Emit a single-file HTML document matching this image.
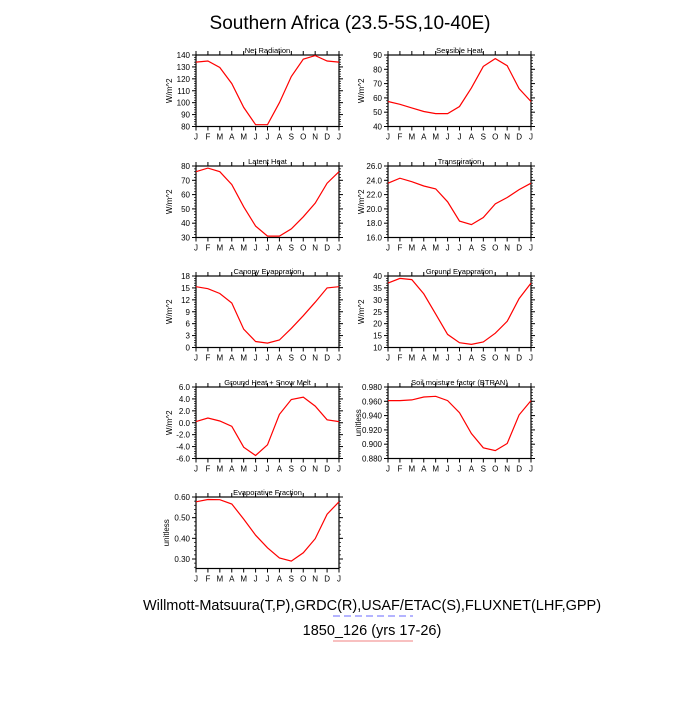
<!DOCTYPE html>
<html><head><meta charset="utf-8"><style>
body{margin:0;background:#fff;}
svg{font-family:"Liberation Sans",sans-serif;}
</style></head><body>
<svg id="c" width="700" height="700" viewBox="0 0 700 700">
<text x="350" y="29" font-size="19" text-anchor="middle">Southern Africa (23.5-5S,10-40E)</text>
<text x="372" y="610" font-size="14.5" text-anchor="middle">Willmott-Matsuura(T,P),GRDC(R),USAF/ETAC(S),FLUXNET(LHF,GPP)</text>
<line x1="333" y1="616" x2="413" y2="616" stroke="#6a6aff" stroke-width="1" stroke-dasharray="7,4"/>
<text x="372" y="635" font-size="14.5" text-anchor="middle">1850_126 (yrs 17-26)</text>
<line x1="333" y1="641" x2="413" y2="641" stroke="#f08080" stroke-width="1"/>
</svg>
<script>
const months=["J","F","M","A","M","J","J","A","S","O","N","D","J"];
const netRad=[134,135,129.5,116,96,81.5,81.5,100,122,136.5,139.5,135,134];
const sensible=[57.5,55.5,53,50.5,49,49,54,67,82,87.5,82.5,66.5,57.5];
const latent=[76,78.5,76,67,51.5,38,31,31,36,44.5,54,68,76];
const transp=[23.6,24.3,23.8,23.2,22.8,21.0,18.3,17.8,18.8,20.7,21.6,22.7,23.6];
const canopy=[15.3,14.8,13.6,11.2,4.6,1.5,1.1,1.9,4.8,8.0,11.4,15.0,15.3];
const groundEvap=[37,39,38.5,32.5,24,15.5,12,11.3,12.3,16,21,30.5,37];
const groundHeat=[0.2,0.8,0.3,-0.6,-4.1,-5.5,-3.7,1.4,3.9,4.3,2.8,0.5,0.2];
const btran=[0.961,0.961,0.962,0.966,0.967,0.961,0.944,0.915,0.895,0.891,0.901,0.941,0.961];
const evapFrac=[0.577,0.588,0.587,0.566,0.493,0.415,0.354,0.305,0.290,0.330,0.398,0.517,0.577];
const netRadTicks=["140","130","120","110","100","90","80"];
const sensTicks=["90","80","70","60","50","40"];
const latTicks=["80","70","60","50","40","30"];
const transpTicks=["26.0","24.0","22.0","20.0","18.0","16.0"];
const canTicks=["18","15","12","9","6","3","0"];
const gevTicks=["40","35","30","25","20","15","10"];
const ghTicks=["6.0","4.0","2.0","0.0","-2.0","-4.0","-6.0"];
const btTicks=["0.980","0.960","0.940","0.920","0.900","0.880"];
const efTicks=["0.60","0.50","0.40","0.30"];

const panels=[
 {id:"net-radiation",title:"Net Radiation",unit:"W/m^2",d:netRad,t:netRadTicks,min:80,max:140,x:196,y:55},
 {id:"sensible-heat",title:"Sensible Heat",unit:"W/m^2",d:sensible,t:sensTicks,min:40,max:90,x:388,y:55},
 {id:"latent-heat",title:"Latent Heat",unit:"W/m^2",d:latent,t:latTicks,min:30,max:80,x:196,y:166},
 {id:"transpiration",title:"Transpiration",unit:"W/m^2",d:transp,t:transpTicks,min:16,max:26,x:388,y:166},
 {id:"canopy-evaporation",title:"Canopy Evaporation",unit:"W/m^2",d:canopy,t:canTicks,min:0,max:18,x:196,y:276},
 {id:"ground-evaporation",title:"Ground Evaporation",unit:"W/m^2",d:groundEvap,t:gevTicks,min:10,max:40,x:388,y:276},
 {id:"ground-heat",title:"Ground Heat + Snow Melt",unit:"W/m^2",d:groundHeat,t:ghTicks,min:-6,max:6,x:196,y:387},
 {id:"btran",title:"Soil moisture factor (BTRAN)",unit:"unitless",d:btran,t:btTicks,min:0.88,max:0.98,x:388,y:387},
 {id:"evaporative-fraction",title:"Evaporative Fraction",unit:"unitless",d:evapFrac,t:efTicks,min:0.254,max:0.60,x:196,y:497}
];
const W=143,H=71.5,NS="http://www.w3.org/2000/svg";
const svg=document.getElementById("c");
function mk(tag,attrs,parent){const e=document.createElementNS(NS,tag);for(const k in attrs)e.setAttribute(k,attrs[k]);parent.appendChild(e);return e;}
panels.forEach(p=>{
 const g=mk("g",{},svg);
 
 
 const xs=i=>p.x+i*W/12;
 const ys=v=>p.y+H-(v-p.min)/(p.max-p.min)*H;
 let path="";
 // ticks
 for(let i=0;i<=12;i++){
  const x=xs(i);
  mk("line",{x1:x,y1:p.y+H,x2:x,y2:p.y+H+4,stroke:"#000","stroke-width":1},g);
  mk("line",{x1:x,y1:p.y,x2:x,y2:p.y-4,stroke:"#000","stroke-width":1},g);
  const tl=mk("text",{x:x,y:p.y+H+13,"font-size":8,"text-anchor":"middle"},g);
  tl.textContent=months[i];
  
  
 }
 const n=p.t.length;
 const tv=p.t.map(Number);
 const step=tv.length>1?tv[0]-tv[1]:1;
 // minor ticks
 for(let v=tv[0];v>=p.min-1e-9;v-=step/5){
  const y=ys(v);
  if(y>p.y+H+0.5)continue;
  mk("line",{x1:p.x,y1:y,x2:p.x-2,y2:y,stroke:"#000","stroke-width":0.7},g);
  mk("line",{x1:p.x+W,y1:y,x2:p.x+W+2,y2:y,stroke:"#000","stroke-width":0.7},g);
 }
 tv.forEach((v,i)=>{
  const y=ys(v);
  mk("line",{x1:p.x,y1:y,x2:p.x-4,y2:y,stroke:"#000","stroke-width":1},g);
  mk("line",{x1:p.x+W,y1:y,x2:p.x+W+4,y2:y,stroke:"#000","stroke-width":1},g);
  const tl=mk("text",{x:p.x-6,y:y+3,"font-size":8,"text-anchor":"end"},g);
  tl.textContent=p.t[i];
  
  
 });
 const fr=mk("rect",{x:p.x,y:p.y,width:W,height:H,fill:"none",stroke:"#000","stroke-width":1.2},g);
 
 
 p.d.forEach((v,i)=>{path+=(i?"L":"M")+xs(i).toFixed(1)+","+ys(v).toFixed(1);});
 const ln=mk("path",{d:path,fill:"none",stroke:"#f00","stroke-width":1.2},g);
 
 
 const tt=mk("text",{x:p.x+W/2,y:p.y-2,"font-size":7.5,"text-anchor":"middle"},g);
 tt.textContent=p.title;
 
 
 const yl=p.unit==="unitless"?p.x-27:p.x-24;
 const ut=mk("text",{x:yl,y:p.y+H/2,"font-size":8,"text-anchor":"middle",transform:`rotate(-90 ${yl} ${p.y+H/2})`},g);
 ut.textContent=p.unit;
 
 
});
</script>
</body></html>
